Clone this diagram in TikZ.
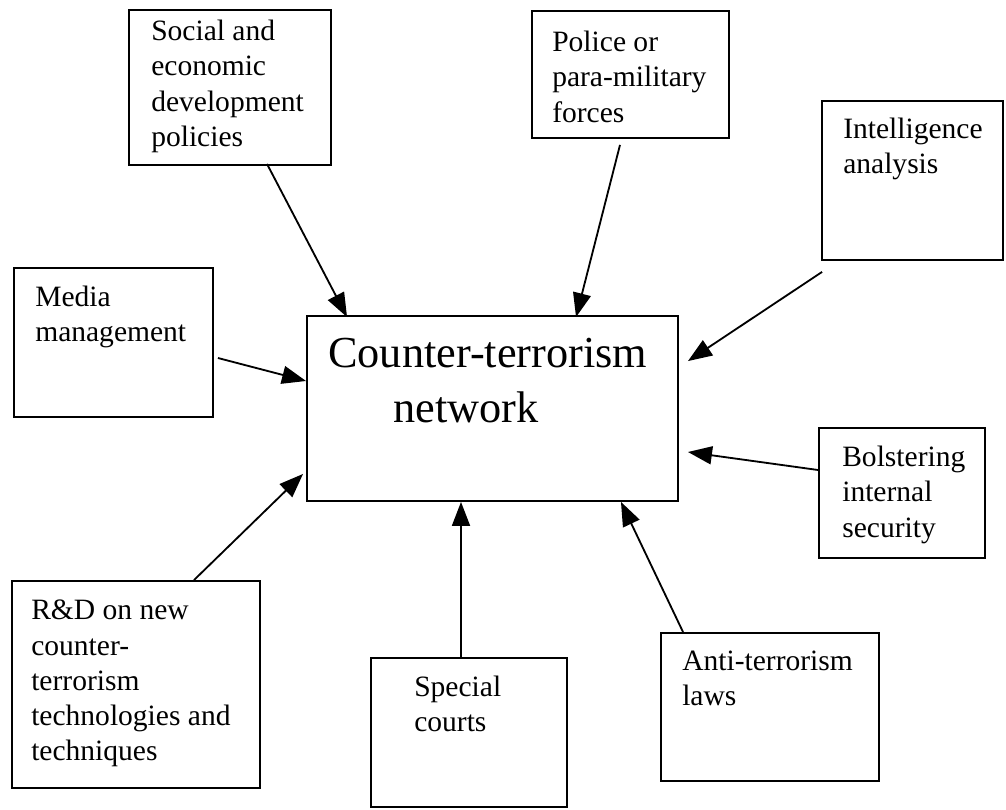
\documentclass[tikz,border=0pt]{standalone}
\usepackage{fontspec}
\setmainfont{Liberation Serif}
\usetikzlibrary{arrows.meta}

\tikzset{
    box/.style={draw, line width=1.3pt, inner sep=0pt},
    txt/.style={anchor=north west, align=left, inner sep=0pt, font=\fontsize{21}{25}\selectfont},
    arr/.style={line width=1.3pt, -{Triangle[length=0.6cm, width=0.45cm]}}
}

\begin{document}
\begin{tikzpicture}[x=0.025cm, y=-0.025cm]
    \useasboundingbox (0,0) rectangle (1006,809);
    % Boxes
    \node [box, minimum width=9.275cm, minimum height=4.625cm] (Net) at (492.5,408.5) {};
    \node [box, minimum width=5.05cm, minimum height=3.875cm] (Social) at (230,87.5) {};
    \node [box, minimum width=4.925cm, minimum height=3.175cm] (Police) at (630.5,74.5) {};
    \node [box, minimum width=4.525cm, minimum height=3.975cm] (Intel) at (912.5,180.5) {};
    \node [box, minimum width=4.975cm, minimum height=3.725cm] (Media) at (113.5,342.5) {};
    \node [box, minimum width=4.15cm, minimum height=3.25cm] (Bolster) at (902,493) {};
    \node [box, minimum width=6.2cm, minimum height=5.175cm] (RnD) at (136,684.5) {};
    \node [box, minimum width=4.9cm, minimum height=3.725cm] (Courts) at (469,732.5) {};
    \node [box, minimum width=5.45cm, minimum height=3.7cm] (Laws) at (770,707) {};
    % Texts
    \node [txt, font=\fontsize{31.5}{39}\selectfont] (NetT) at (328,338) {Counter-terrorism\\\hspace*{1.625cm}network};
    \node [txt] (SocialT) at (151,20) {Social and\\economic\\development\\policies};
    \node [txt] (PoliceT) at (552,31) {Police or\\para-military\\forces};
    \node [txt] (IntelT) at (843,118) {Intelligence\\analysis};
    \node [txt] (MediaT) at (35,286) {Media\\management};
    \node [txt] (BolsterT) at (842,446) {Bolstering\\internal\\security};
    \node [txt] (RnDT) at (31,600) {R\&D on new\\counter-\\terrorism\\technologies and\\techniques};
    \node [txt] (CourtsT) at (414,676) {Special\\courts};
    \node [txt] (LawsT) at (682,651) {Anti-terrorism\\laws};
    % Arrows
    \draw [arr] ([shift={(37,-2)}]Social.south) -- ([shift={(41,2)}]Net.north west);
    \draw [arr] ([shift={(-10.5,6)}]Police.south) -- ([shift={(270,2)}]Net.north west);
    \draw [arr] ([shift={(1,11)}]Intel.south west) -- ([shift={(9,46)}]Net.north east);
    \draw [arr] ([shift={(4,15.5)}]Media.east) -- ([shift={(0,-27.5)}]Net.west);
    \draw [arr] ([shift={(0,-23)}]Bolster.west) -- ([shift={(9,43.5)}]Net.east);
    \draw [arr] ([shift={(58,0)}]RnD.north) -- ([shift={(-3,-28)}]Net.south west);
    \draw [arr] ([shift={(-8,0)}]Courts.north) -- ([shift={(-31.5,0)}]Net.south);
    \draw [arr] ([shift={(23,0)}]Laws.north west) -- ([shift={(-58,0)}]Net.south east);
\end{tikzpicture}
\end{document}
